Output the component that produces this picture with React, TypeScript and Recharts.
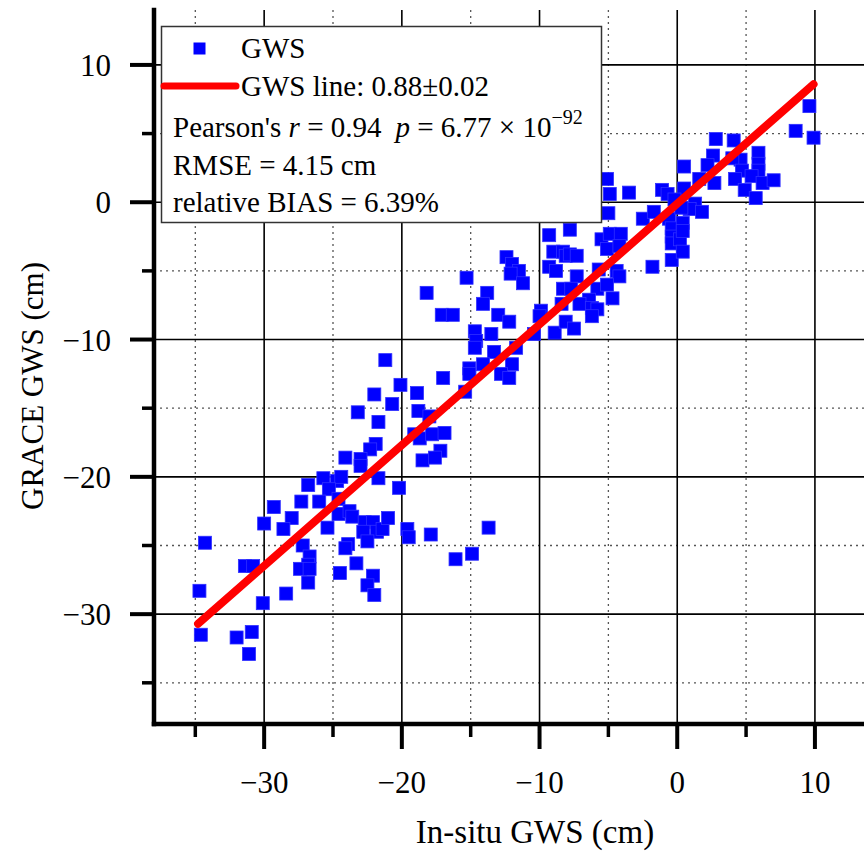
import React from 'react';
import { ScatterChart, Scatter, XAxis, YAxis, CartesianGrid, Legend } from 'recharts';

// In-situ GWS (cm) – x values
const insituGWS = [
  -21.2, -20.1, -18.9, -22.0, -20.7, -18.8, -23.2, -21.7, -19.1, -18.7,
  -21.9, -22.3, -24.1, -23.0, -23.0, -18.5, -21.7, -20.2, -26.8, -25.7,
  -24.7, -24.4, -25.3, -27.3, -26.0, -24.6, -29.3, -28.0, -30.0, -28.6,
  -25.4, -24.6, -23.8, -23.6, -22.7, -22.1, -22.8, -21.8, -21.4, -21.0,
  -22.5, -19.6, -19.5, -34.3, -23.9, -24.1, -27.2, -26.7, -26.8, -27.4,
  -26.7, -23.3, -24.5, -22.1, -22.5, -22.0, -31.4, -30.8, -26.8, -28.4,
  -30.1, -34.7, -34.6, -32.0, -30.9, -31.1, -17.9, -16.1, -14.9, -13.7,
  -9.3, -9.0, -8.3, -8.1, -12.4, -12.0, -11.5, -12.1, -9.3, -8.8,
  -11.2, -15.3, -18.2, -13.8, -14.1, -17.1, -16.3, -13.0, -12.2, -14.7,
  -13.5, -9.9, -10.0, -8.9, -8.1, -8.3, -8.4, -14.6, -14.7, -10.4,
  -11.7, -13.3, -14.1, -15.1, -15.1, -12.0, -12.8, -12.2, -17.0, -15.4,
  -18.0, -17.8, -16.9, -17.2, -17.6,
  -5.1, -4.9, -3.5, -1.1, -0.7, -5.0, -2.5, -1.7, -0.6, -0.4,
  -0.4, -0.4, -0.4, -7.8, -5.5, -4.9, -4.1, -5.1, -4.2, -7.8,
  -7.3, -7.3, -5.7, -4.4, -4.2, -1.8, -7.7, -5.8, -5.1, -6.4,
  -4.7, -7.1, -6.2, -5.8, -6.2, -7.5,
  9.6, 8.6, 9.9, 2.8, 4.1, 2.6, 5.9, 2.2, 0.5, 4.6,
  4.0, 5.9, 4.7, 5.9, 1.6, 2.7, 4.2, 5.4, 6.2, 7.0,
  4.9, 5.7, 0.5, -0.2, 1.3, 0.9, 1.8, 0.3, 0.2, 0.4,
  0.4, 0.4,
];

// GRACE GWS (cm) – y values
const graceGWS = [
  -11.5, -13.3, -13.9, -14.0, -14.7, -15.2, -15.3, -16.0, -16.9, -17.2,
  -17.6, -18.0, -18.6, -18.7, -19.2, -18.8, -20.1, -20.8, -20.6, -20.1,
  -20.3, -20.0, -20.9, -21.8, -21.8, -21.6, -22.2, -23.0, -23.4, -23.8,
  -23.7, -22.7, -22.5, -22.9, -23.3, -23.3, -24.0, -24.0, -23.8, -23.0,
  -24.7, -23.8, -24.4, -24.8, -24.9, -25.2, -25.0, -25.8, -26.4, -26.7,
  -26.7, -26.3, -27.0, -27.2, -27.9, -28.6, -26.5, -26.5, -27.7, -28.5,
  -29.2, -28.3, -31.5, -31.7, -31.3, -32.9, -24.2, -26.0, -25.6, -23.7,
  -2.4, -3.6, -3.6, -3.9, -4.0, -4.5, -5.0, -5.2, -4.7, -5.0,
  -5.9, -5.5, -6.6, -6.6, -7.4, -8.2, -8.2, -8.2, -8.7, -9.4,
  -9.6, -7.9, -8.3, -9.5, -8.7, -6.3, -7.4, -10.1, -10.6, -9.6,
  -10.6, -10.9, -11.8, -12.1, -12.5, -11.8, -12.5, -12.8, -12.8, -13.8,
  -15.6, -16.9, -16.8, -18.1, -18.6,
  1.7, 0.6, 0.7, 0.9, 0.6, -0.8, -1.2, -0.7, -1.2, -1.9,
  -2.5, -3.0, -4.2, -2.0, -2.7, -2.3, -2.3, -3.4, -3.2, -3.8,
  -3.9, -5.4, -4.9, -5.0, -5.4, -4.7, -6.3, -6.3, -6.0, -7.1,
  -7.0, -7.4, -7.7, -7.8, -8.3, -9.2,
  7.0, 5.2, 4.7, 4.6, 4.5, 3.4, 3.6, 2.7, 2.6, 3.1,
  3.2, 2.8, 2.3, 2.3, 1.7, 1.4, 1.7, 1.9, 1.4, 1.6,
  0.9, 0.3, 1.0, 0.2, -0.1, -0.5, -0.7, -0.4, -2.7, -3.6,
  -1.5, -2.1,
];

// Fitted line end points
const fitX = [-34.8, 9.9];
const fitY = [-30.7, 8.6];

const axisTicks = [-35, -30, -25, -20, -15, -10, -5, 0, 5, 10];
const majorGrid = [-30, -20, -10, 0, 10];
const minorGrid = [-35, -25, -15, -5, 5];
const axisDomain = [-38, 14];

const seriesName = 'GWS';
const fitName = 'GWS line: 0.88\u00B10.02';
const pearsonR = '0.94';
const pValueMantissa = '6.77';
const pValueExp = '\u221292';
const rmseText = 'RMSE = 4.15 cm';
const biasText = 'relative BIAS = 6.39%';
const xTitle = 'In-situ GWS (cm)';
const yTitle = 'GRACE GWS (cm)';

const FONT = "'Liberation Serif', 'Times New Roman', Times, serif";
const txt = { fontFamily: FONT };

const points = insituGWS.map((x, i) => ({ x, y: graceGWS[i] }));
const fitData = fitX.map((x, i) => ({ x, y: fitY[i] }));

const fmt = (v: number) => (v < 0 ? '\u2212' + Math.abs(v) : String(v));
const isMajor = (v: number) => Math.abs(v % 10) < 1e-9;

const makeTick = (side: 'bottom' | 'left' | 'top' | 'right') => (props: any) => {
  const { x, y, payload } = props;
  const v = payload.value as number;
  const major = isMajor(v);
  const sw = major ? 4 : 3.5;
  if (side === 'bottom') {
    const len = major ? 25 : 13;
    return (
      <g>
        <line x1={x} x2={x} y1={y} y2={y + len} stroke="#000" strokeWidth={sw} />
        {major && (
          <text x={x} y={y + 69} textAnchor="middle" fontSize={31} fontFamily={FONT} style={txt} fill="#000">
            {fmt(v)}
          </text>
        )}
      </g>
    );
  }
  if (side === 'left') {
    const len = major ? 24 : 12;
    return (
      <g>
        <line x1={x - len} x2={x} y1={y} y2={y} stroke="#000" strokeWidth={sw} />
        {major && (
          <text x={x - 43} y={y + 11} textAnchor="end" fontSize={31} fontFamily={FONT} style={txt} fill="#000">
            {fmt(v)}
          </text>
        )}
      </g>
    );
  }
  if (side === 'top') {
    const len = major ? 23 : 11;
    return <line x1={x} x2={x} y1={y} y2={y + len} stroke="#000" strokeWidth={sw} />;
  }
  const len = major ? 23 : 12;
  return <line x1={x - len} x2={x} y1={y} y2={y} stroke="#000" strokeWidth={sw} />;
};

const Square = (props: any) => {
  const { cx, cy } = props;
  if (cx == null || cy == null) return <g />;
  return <rect x={cx - 6.5} y={cy - 6.5} width={13} height={13} fill="#0000FF" stroke="#2f2fff" strokeWidth={0.8} />;
};

const NoShape = () => <g />;

const LegendBox = () => (
  <svg width={444} height={200} style={{ display: 'block' }}>
    <rect x={1.5} y={1.5} width={440} height={196} fill="#fff" stroke="#333" strokeWidth={1.5} />
    <rect x={33.5} y={17.5} width={12} height={12} fill="#0000FF" />
    <text x={81} y={33} fontSize={29} fontFamily={FONT} style={txt} fill="#000">{seriesName}</text>
    <line x1={4} x2={76} y1={61} y2={61} stroke="#FF0000" strokeWidth={7} strokeLinecap="round" />
    <text x={81} y={71} fontSize={29} fontFamily={FONT} style={txt} fill="#000">{fitName}</text>
    <text x={13} y={112} fontSize={29} fontFamily={FONT} style={txt} fill="#000">
      <tspan>Pearson's </tspan>
      <tspan fontStyle="italic">r</tspan>
      <tspan>{' = ' + pearsonR}</tspan>
      <tspan dx={14} fontStyle="italic">p</tspan>
      <tspan>{' = ' + pValueMantissa + ' \u00D7 10'}</tspan>
      <tspan dy={-13} fontSize={20}>{pValueExp}</tspan>
    </text>
    <text x={13} y={150} fontSize={29} fontFamily={FONT} style={txt} fill="#000">{rmseText}</text>
    <text x={13} y={187} fontSize={29} fontFamily={FONT} style={txt} fill="#000">{biasText}</text>
  </svg>
);

const XTitle = (props: any) => {
  const vb = props.viewBox || { x: 154, width: 716, y: 724 };
  return (
    <text x={vb.x + vb.width / 2 + 23} y={843} textAnchor="middle" fontSize={33} fontFamily={FONT} style={txt} fill="#000">
      {xTitle}
    </text>
  );
};

const YTitle = () => (
  <text x={43} y={386} transform="rotate(-90 43 386)" textAnchor="middle" fontSize={31} fontFamily={FONT} style={txt} fill="#000">
    {yTitle}
  </text>
);

const axisLineStyle = { stroke: '#000', strokeWidth: 4.5, strokeLinecap: 'square' as const };

export default function App() {
  return (
    <div style={{ position: 'absolute', left: 0, top: 0, width: 864, height: 852, overflow: 'hidden', background: '#fff', fontFamily: FONT }}>
      <ScatterChart width={880} height={852} margin={{ top: 10, right: 10, bottom: 68, left: 94 }} style={{ fontFamily: FONT }}>
        <CartesianGrid horizontalValues={minorGrid} verticalValues={minorGrid} stroke="#555" strokeDasharray="2 4" strokeWidth={1.3} />
        <CartesianGrid horizontalValues={majorGrid} verticalValues={majorGrid} stroke="#000" strokeWidth={1.6} />
        <XAxis
          type="number"
          dataKey="x"
          domain={axisDomain}
          allowDataOverflow
          ticks={axisTicks}
          interval={0}
          tickSize={0}
          tickMargin={0}
          tickLine={false}
          axisLine={axisLineStyle}
          tick={makeTick('bottom')}
          height={60}
          label={XTitle}
        />
        <XAxis
          xAxisId="t"
          orientation="top"
          type="number"
          dataKey="x"
          domain={axisDomain}
          allowDataOverflow
          ticks={axisTicks}
          interval={0}
          tickSize={0}
          tickMargin={0}
          tickLine={false}
          axisLine={axisLineStyle}
          tick={makeTick('top')}
          height={0}
        />
        <YAxis
          type="number"
          dataKey="y"
          domain={axisDomain}
          allowDataOverflow
          ticks={axisTicks}
          interval={0}
          tickSize={0}
          tickMargin={0}
          tickLine={false}
          axisLine={axisLineStyle}
          tick={makeTick('left')}
          width={60}
          label={YTitle}
        />
        <YAxis
          yAxisId="r"
          orientation="right"
          type="number"
          dataKey="y"
          domain={axisDomain}
          allowDataOverflow
          ticks={axisTicks}
          interval={0}
          tickSize={0}
          tickMargin={0}
          tickLine={false}
          axisLine={axisLineStyle}
          tick={makeTick('right')}
          width={0}
        />
        <Scatter name={seriesName} data={points} shape={Square} isAnimationActive={false} />
        <Scatter
          name={fitName}
          data={fitData}
          shape={NoShape}
          line={{ stroke: '#FF0000', strokeWidth: 8, strokeLinecap: 'round' }}
          isAnimationActive={false}
        />
        <Legend
          layout="vertical"
          align="center"
          verticalAlign="middle"
          wrapperStyle={{ left: 160, top: 25, width: 444, height: 200 }}
          content={() => <LegendBox />}
        />
      </ScatterChart>
    </div>
  );
}
